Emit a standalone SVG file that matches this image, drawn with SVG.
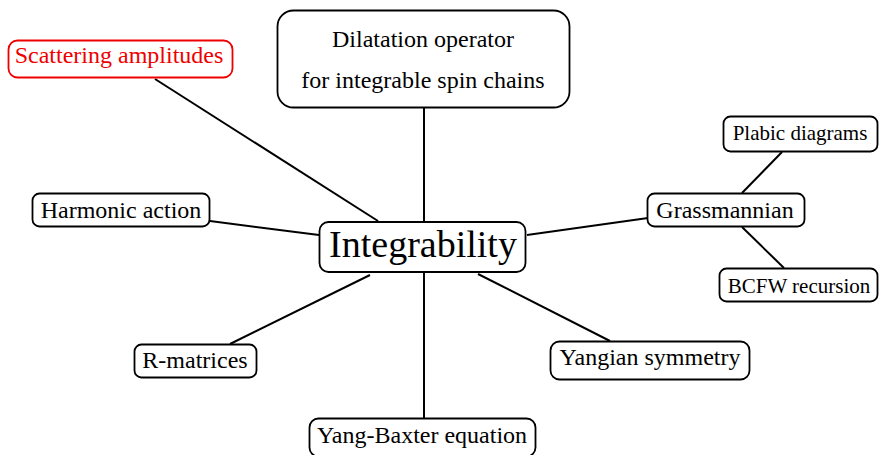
<svg xmlns="http://www.w3.org/2000/svg" width="880" height="455" viewBox="0 0 880 455">
  <style>
    .box { fill: #fff; stroke: #000; stroke-width: 1.8; }
    .red { stroke: #e00; }
    .lbl { font-family: "Liberation Serif", "Times New Roman", serif; fill: #000; text-anchor: middle; font-size: 24px; }
    .sm { font-size: 21px; }
    .edge { stroke: #000; stroke-width: 2; fill: none; }
  </style>
  <rect width="880" height="455" fill="#fff"/>

  <g id="connectors">
    <line class="edge" x1="155" y1="79" x2="378" y2="221"/>
    <line class="edge" x1="424" y1="107" x2="424" y2="222"/>
    <line class="edge" x1="210" y1="221" x2="319" y2="235"/>
    <line class="edge" x1="527" y1="235" x2="648" y2="218"/>
    <line class="edge" x1="782" y1="152" x2="742" y2="193"/>
    <line class="edge" x1="742" y1="227" x2="784" y2="268"/>
    <line class="edge" x1="230" y1="344" x2="370" y2="275"/>
    <line class="edge" x1="424" y1="272" x2="424" y2="418"/>
    <line class="edge" x1="478" y1="274" x2="610" y2="341"/>
  </g>

  <g id="scattering">
    <rect class="box red" x="8.5" y="40.5" width="224" height="37" rx="9"/>
    <text class="lbl" x="119" y="63" style="fill:#e00">Scattering amplitudes</text>
  </g>

  <g id="dilatation">
    <rect class="box" x="277.5" y="10.5" width="292" height="97" rx="16"/>
    <text class="lbl" x="423" y="47">Dilatation operator</text>
    <text class="lbl" x="423" y="88">for integrable spin chains</text>
  </g>

  <g id="integrability">
    <rect class="box" x="319.5" y="222" width="206" height="50" rx="9" stroke-width="2.6"/>
    <text class="lbl" x="423" y="257" style="font-size:38px">Integrability</text>
  </g>

  <g id="harmonic">
    <rect class="box" x="32.5" y="193.5" width="177" height="33" rx="7"/>
    <text class="lbl" x="121" y="218">Harmonic action</text>
  </g>

  <g id="grassmannian">
    <rect class="box" x="647.5" y="193.5" width="157" height="33" rx="7"/>
    <text class="lbl" x="725" y="218">Grassmannian</text>
  </g>

  <g id="plabic">
    <rect class="box" x="723.5" y="116.5" width="154" height="35" rx="7"/>
    <text class="lbl sm" x="800" y="140">Plabic diagrams</text>
  </g>

  <g id="bcfw">
    <rect class="box" x="719.5" y="268.5" width="158" height="33" rx="7"/>
    <text class="lbl sm" x="799" y="293">BCFW recursion</text>
  </g>

  <g id="rmatrices">
    <rect class="box" x="134.5" y="344.5" width="122" height="33" rx="7"/>
    <text class="lbl" x="195" y="368">R-matrices</text>
  </g>

  <g id="yangian">
    <rect class="box" x="550.5" y="341.5" width="199" height="38" rx="9"/>
    <text class="lbl" x="650" y="365">Yangian symmetry</text>
  </g>

  <g id="yangbaxter">
    <rect class="box" x="309.5" y="418.5" width="226" height="38" rx="9"/>
    <text class="lbl" x="422" y="443">Yang-Baxter equation</text>
  </g>
</svg>
